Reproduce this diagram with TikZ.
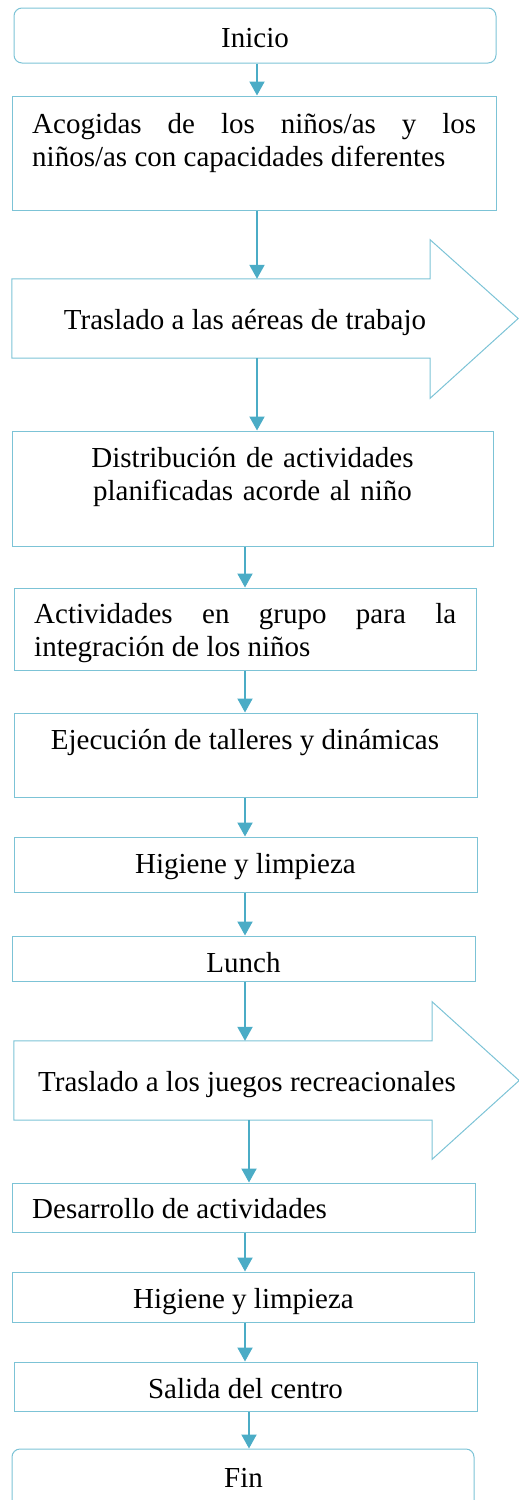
\documentclass[tikz,border=0pt]{standalone}
\usepackage{fontspec}
\setmainfont{Liberation Serif}
\usetikzlibrary{arrows.meta}
\definecolor{fcLine}{HTML}{7CC3D6}
\definecolor{fcArrow}{HTML}{4BACC6}

\begin{document}
\begin{tikzpicture}[x=1pt,y=-1pt,
  box/.style={draw=fcLine,line width=1pt,inner sep=0pt},
  term/.style={box,rounded corners=8pt},
  tx/.style={font=\fontsize{29}{33}\selectfont,inner sep=0pt,anchor=base},
  jt/.style={tx,align=justify,anchor=base west},
  ar/.style={-{Triangle[length=14pt,width=15pt]},draw=fcArrow,line width=2pt}
]
\useasboundingbox (0,0) rectangle (519,1500);

% boxes
\node[term,minimum width=482,minimum height=55] (ini) at (255,35.5) {};
\node[box,minimum width=484,minimum height=114] (acog) at (254,153) {};
\node[inner sep=0pt,minimum width=418,minimum height=79] (tras1) at (221,318.5) {};
\draw[fcLine,line width=1pt] (tras1.north west) -- (tras1.north east) -- ([yshift=39pt]tras1.north east)
  -- ([xshift=88pt]tras1.east) -- ([yshift=-40pt]tras1.south east) -- (tras1.south east) -- (tras1.south west) -- cycle;
\node[box,minimum width=481,minimum height=115] (dist) at (252.5,488.5) {};
\node[box,minimum width=462,minimum height=82] (grupo) at (245,629) {};
\node[box,minimum width=463,minimum height=84] (ejec) at (245.5,755) {};
\node[box,minimum width=463,minimum height=55] (hig1) at (245.5,864.5) {};
\node[box,minimum width=463,minimum height=45] (lunch) at (243.5,958.5) {};
\node[inner sep=0pt,minimum width=418,minimum height=79] (tras2) at (223,1080.5) {};
\draw[fcLine,line width=1pt] (tras2.north west) -- (tras2.north east) -- ([yshift=39pt]tras2.north east)
  -- ([xshift=87pt]tras2.east) -- ([yshift=-39pt]tras2.south east) -- (tras2.south east) -- (tras2.south west) -- cycle;
\node[box,minimum width=463,minimum height=49] (desa) at (243.5,1207.5) {};
\node[box,minimum width=462,minimum height=50] (hig2) at (243,1297) {};
\node[box,minimum width=463,minimum height=49] (sal) at (245.5,1386.5) {};
\node[term,minimum width=462,minimum height=71] (fin) at (243,1484.5) {};

% texts
\node[tx] (iniT) at (255,47) {Inicio};
\node[jt,text width=444pt] (acogT) at (32,133) {Acogidas de los niños/as y los\linebreak niños/as con capacidades diferentes};
\node[tx] (tras1T) at (245,329) {Traslado a las aéreas de trabajo};
\node[tx,text width=440pt,align=center] (distT) at (252.5,467) {Distribución de actividades\\planificadas acorde al niño};
\node[jt,text width=422pt] (grupoT) at (34,623) {Actividades en grupo para la\linebreak integración de los niños};
\node[tx] (ejecT) at (245,749) {Ejecución de talleres y dinámicas};
\node[tx] (hig1T) at (245.5,873) {Higiene y limpieza};
\node[tx] (lunchT) at (243.5,972) {Lunch};
\node[tx] (tras2T) at (247,1091) {Traslado a los juegos recreacionales};
\node[tx,anchor=base west] (desaT) at (32,1218) {Desarrollo de actividades};
\node[tx] (hig2T) at (243.5,1308) {Higiene y limpieza};
\node[tx] (salT) at (245.5,1398) {Salida del centro};
\node[tx] (finT) at (243.5,1487) {Fin};

% connectors
\foreach \a/\b/\x in {ini/acog/257,acog/tras1/257,tras1/dist/257,dist/grupo/245,grupo/ejec/245,
    ejec/hig1/245,hig1/lunch/245,lunch/tras2/245,tras2/desa/249,desa/hig2/245,hig2/sal/245,sal/fin/249}{
  \coordinate (ax) at (\x,0);
  \draw[ar] (\a.south -| ax) -- (\b.north -| ax);
}
\end{tikzpicture}
\end{document}
